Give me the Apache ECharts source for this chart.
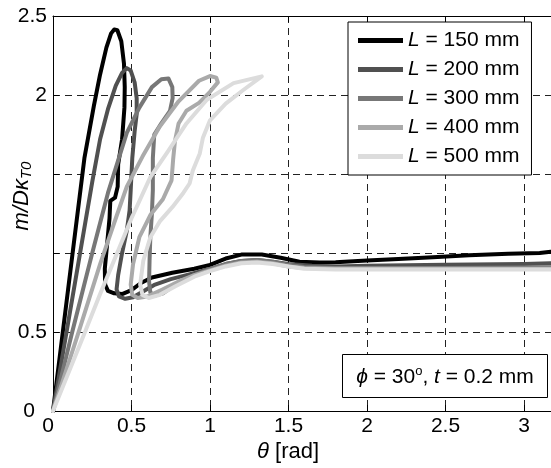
<!DOCTYPE html>
<html>
<head>
<meta charset="utf-8">
<script src="https://cdn.jsdelivr.net/npm/echarts@6/dist/echarts.min.js"></script>
<style>
html,body{margin:0;padding:0;background:#fff;}
#chart{width:551px;height:468px;}
</style>
</head>
<body>
<div id="chart"></div>
<script>
// ---- data (theta [rad], m/DκT0) ----
const seriesNames = ['L = 150 mm', 'L = 200 mm', 'L = 300 mm', 'L = 400 mm', 'L = 500 mm'];
const seriesColors = ['#000000', '#505050', '#777777', '#aaaaaa', '#dcdcdc'];

const curve150 = [[0,0],[0.1,0.8],[0.2,1.6],[0.26,1.93],[0.3,2.13],[0.34,2.3],[0.37,2.39],[0.39,2.415],[0.41,2.41],
 [0.435,2.34],[0.452,2.2],[0.457,2.05],[0.455,1.92],[0.44,1.72],[0.415,1.56],[0.412,1.42],[0.395,1.35],[0.365,1.33],
 [0.36,1.22],[0.345,1.06],[0.33,0.9],[0.332,0.8],[0.35,0.76],[0.39,0.745],[0.44,0.74],[0.5,0.765],[0.56,0.81],
 [0.63,0.845],[0.76,0.875],[0.9,0.9],[1.0,0.925],[1.1,0.965],[1.2,0.99],[1.33,0.99],[1.45,0.97],[1.57,0.945],
 [1.7,0.94],[1.8,0.942],[2.0,0.952],[2.2,0.962],[2.42,0.973],[2.65,0.985],[2.9,0.995],[3.1,1.0],[3.17,1.008]];

const curve200 = [[0,0],[0.15,0.87],[0.25,1.45],[0.3,1.72],[0.35,1.91],[0.4,2.06],[0.44,2.14],[0.47,2.17],[0.495,2.155],
 [0.52,2.08],[0.533,1.98],[0.533,1.88],[0.52,1.77],[0.505,1.6],[0.495,1.4],[0.488,1.27],[0.47,1.14],[0.44,1.0],
 [0.415,0.86],[0.405,0.77],[0.42,0.725],[0.46,0.71],[0.51,0.72],[0.57,0.755],[0.65,0.8],[0.75,0.835],[0.85,0.86],
 [1.0,0.9],[1.1,0.93],[1.2,0.95],[1.3,0.955],[1.4,0.945],[1.5,0.93],[1.65,0.92],[1.8,0.915],[2.0,0.92],[2.5,0.925],
 [3.0,0.93],[3.17,0.935]];

const curve300 = [[0,0],[0.12,0.49],[0.25,1.0],[0.35,1.38],[0.47,1.76],[0.55,1.92],[0.63,2.05],[0.69,2.1],[0.735,2.105],[0.76,2.05],
 [0.762,1.98],[0.745,1.9],[0.69,1.82],[0.645,1.75],[0.636,1.6],[0.636,1.4],[0.63,1.25],[0.62,1.1],[0.615,0.95],
 [0.612,0.82],[0.62,0.75],[0.65,0.73],[0.7,0.745],[0.78,0.8],[0.9,0.86],[1.0,0.9],[1.1,0.93],[1.2,0.95],[1.3,0.955],
 [1.4,0.945],[1.5,0.925],[1.6,0.912],[1.8,0.905],[2.5,0.905],[3.17,0.91]];

const curve400 = [[0,0],[0.16,0.49],[0.3,0.93],[0.4,1.22],[0.47,1.42],[0.57,1.61],[0.68,1.8],[0.8,1.96],[0.93,2.09],[1.0,2.12],[1.04,2.11],[1.05,2.08],
 [1.0,2.02],[0.93,1.95],[0.85,1.9],[0.8,1.82],[0.777,1.71],[0.765,1.59],[0.755,1.46],[0.7,1.34],[0.62,1.24],
 [0.55,1.1],[0.51,0.93],[0.495,0.8],[0.505,0.735],[0.54,0.715],[0.6,0.725],[0.7,0.77],[0.8,0.82],[0.9,0.86],
 [1.0,0.89],[1.1,0.92],[1.2,0.94],[1.3,0.945],[1.4,0.935],[1.5,0.915],[1.6,0.905],[1.8,0.9],[2.5,0.9],[3.17,0.9]];

const curve500 = [[0,0],[0.2,0.49],[0.3,0.74],[0.4,0.98],[0.5,1.22],[0.62,1.48],[0.73,1.64],[0.85,1.82],[0.98,1.97],[1.15,2.075],[1.33,2.118],
 [1.21,2.03],[1.1,1.945],[1.0,1.84],[0.955,1.73],[0.935,1.63],[0.89,1.52],[0.87,1.44],[0.83,1.38],[0.76,1.29],
 [0.68,1.2],[0.62,1.1],[0.575,0.95],[0.555,0.8],[0.57,0.735],[0.61,0.715],[0.68,0.735],[0.78,0.79],[0.9,0.85],
 [1.0,0.885],[1.1,0.915],[1.2,0.935],[1.3,0.94],[1.4,0.93],[1.5,0.915],[1.6,0.9],[1.8,0.895],[2.5,0.895],[3.17,0.895]];

const curves = [curve150, curve200, curve300, curve400, curve500];

const xTickLabels = ['0', '0.5', '1', '1.5', '2', '2.5', '3'];
const yTickLabels = ['0', '0.5', '', '', '2', '2.5'];

// ---- chart ----
const FONT = 'Arial, "Liberation Sans", Helvetica, sans-serif';
const chart = echarts.init(document.getElementById('chart'), null, {renderer: 'canvas'});

const gridDash = {type: [7, 5], color: '#222', width: 1};

const option = {
  animation: false,
  backgroundColor: '#fff',
  grid: {left: 53, right: 0, top: 16, bottom: 57, containLabel: false},
  xAxis: [{
    type: 'value', min: 0, max: 3.172, interval: 0.5,
    axisLine: {show: true, onZero: false, lineStyle: {color: '#000', width: 1}},
    axisTick: {show: true, inside: true, length: 6, lineStyle: {color: '#000'}},
    splitLine: {show: true, lineStyle: gridDash},
    axisLabel: {
      show: true, margin: 5, color: '#000', fontFamily: FONT, fontSize: 21,
      showMaxLabel: false,
      formatter: function (v) {
        const i = Math.round(v / 0.5);
        if (i === 0) return '{z|' + xTickLabels[0] + '}';
        return xTickLabels[i] !== undefined ? xTickLabels[i] : '';
      },
      rich: {z: {fontFamily: FONT, fontSize: 21, color: '#000', padding: [0, 10, 0, 0]}}
    }
  }, {
    type: 'value', min: 0, max: 3.172, interval: 0.5, position: 'top',
    axisLine: {show: true, onZero: false, lineStyle: {color: '#000', width: 1}},
    axisTick: {show: true, inside: true, length: 6, lineStyle: {color: '#000'}},
    splitLine: {show: false},
    axisLabel: {show: false}
  }],
  yAxis: [{
    type: 'value', min: 0, max: 2.5, interval: 0.5,
    axisLine: {show: true, onZero: false, lineStyle: {color: '#000', width: 1}},
    axisTick: {show: true, inside: true, length: 6, lineStyle: {color: '#000'}},
    splitLine: {show: true, lineStyle: gridDash},
    axisLabel: {
      show: true, margin: 6, color: '#000', fontFamily: FONT, fontSize: 21,
      formatter: function (v) {
        const i = Math.round(v / 0.5);
        if (i === 0) return '{z|' + yTickLabels[0] + '}';
        return yTickLabels[i] !== undefined ? yTickLabels[i] : '';
      },
      rich: {z: {fontFamily: FONT, fontSize: 21, color: '#000', padding: [0, 12, 0, 0]}}
    }
  }],
  legend: {
    show: true,
    orient: 'vertical',
    left: 348, top: 22,
    padding: [8, 12, 8, 10],
    itemGap: 8,
    itemWidth: 45, itemHeight: 5,
    icon: 'rect',
    backgroundColor: '#fff',
    borderColor: '#000', borderWidth: 1,
    data: seriesNames,
    textStyle: {
      fontFamily: FONT, fontSize: 21, color: '#000', lineHeight: 21,
      rich: {
        i: {fontFamily: FONT, fontSize: 21, fontStyle: 'italic', color: '#000', lineHeight: 21},
        n: {fontFamily: FONT, fontSize: 21, color: '#000', lineHeight: 21}
      }
    },
    formatter: function (name) {
      return '{i|L}{n|' + name.slice(1) + '}';
    }
  },
  series: curves.map(function (c, k) {
    return {
      name: seriesNames[k],
      type: 'line',
      data: c,
      xAxisIndex: 0, yAxisIndex: 0,
      showSymbol: false, symbol: 'none',
      smooth: false,
      clip: true,
      color: seriesColors[k],
      lineStyle: {color: seriesColors[k], width: 4, join: 'round', cap: 'round'},
      z: 2 + k
    };
  }),
  graphic: [
    {type: 'rect', z: 100, shape: {x: 342.5, y: 354.5, width: 205, height: 43},
     style: {fill: '#fff', stroke: '#000', lineWidth: 1}},
    {
      type: 'text', z: 101, x: 445, y: 377,
      style: {
        x: 0, y: 0, align: 'center', verticalAlign: 'middle',
        text: '{i|ϕ}{n| = 30}{s|o}{n|, }{i|t}{n| = 0.2 mm}',
        rich: {
          i: {fontFamily: FONT, fontSize: 21, fontStyle: 'italic', fill: '#000'},
          n: {fontFamily: FONT, fontSize: 21, fill: '#000'},
          s: {fontFamily: FONT, fontSize: 13, fill: '#000', padding: [0, 0, 12, 0]}
        }
      }
    },
    {
      type: 'text', z: 100, x: 288, y: 452,
      style: {
        x: 0, y: 0, align: 'center', verticalAlign: 'middle',
        text: '{i|θ}{n| [rad]}',
        rich: {
          i: {fontFamily: FONT, fontSize: 22, fontStyle: 'italic', fill: '#000'},
          n: {fontFamily: FONT, fontSize: 22, fill: '#000'}
        }
      }
    },
    {
      type: 'text', z: 100,
      x: 22, y: 196, rotation: Math.PI / 2,
      style: {
        x: 0, y: 0, align: 'center', verticalAlign: 'middle',
        text: '{i|m/Dκ}{s|T0}',
        rich: {
          i: {fontFamily: FONT, fontSize: 22, fontStyle: 'italic', fill: '#000'},
          s: {fontFamily: FONT, fontSize: 15, fontStyle: 'italic', fill: '#000', padding: [10, 0, 0, 0]}
        }
      }
    }
  ]
};
chart.setOption(option);
</script>
</body>
</html>
